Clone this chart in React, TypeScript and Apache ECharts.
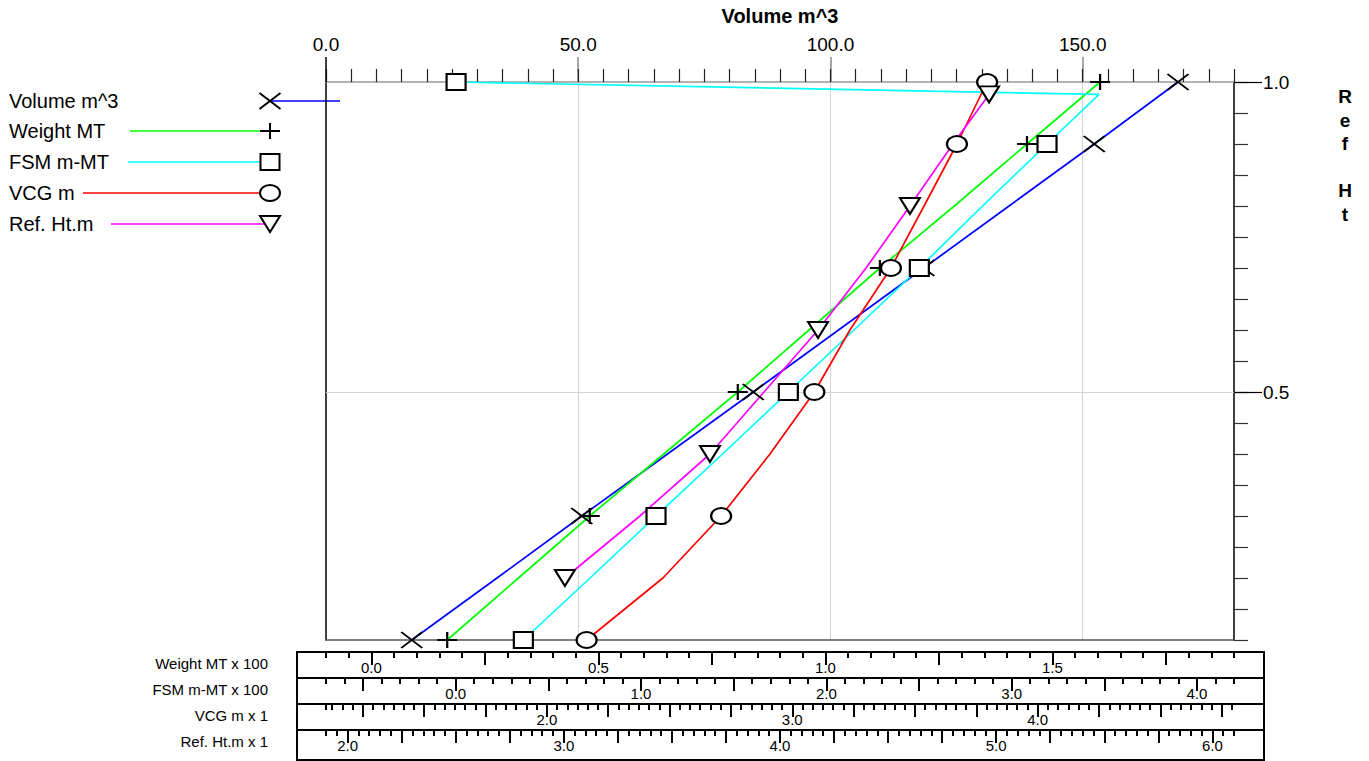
import React, { useEffect, useRef } from 'react';
import * as echarts from 'echarts';

// ---------- data ----------
const levels = [0.1, 0.2, 0.3, 0.4, 0.5, 0.6, 0.7, 0.8, 0.9, 1.0];
const volume = [17.0, 33.9, 50.7, 67.7, 84.7, 101.6, 118.5, 135.4, 152.3, 168.9];
const weight = [16.7, 32.4, 48.1, 64.4, 80.7, 96.4, 112.0, 128.4, 144.4, 160.5];
const vcg = [2.162, 2.473, 2.71, 2.909, 3.09, 3.235, 3.402, 3.537, 3.671, 3.794];

const fsmLevels = [0.1, 0.2, 0.3, 0.4, 0.5, 0.6, 0.7, 0.8, 0.9, 0.98, 1.0];
const fsm = [36.5, 72.5, 108.1, 144.0, 179.5, 214.9, 250.2, 284.3, 319.1, 347.2, 0.2];

const refHtLevels = [0.2, 0.3, 0.4, 0.5, 0.6, 0.7, 0.8, 0.9, 0.98];
const refHt = [3.005, 3.352, 3.676, 3.926, 4.176, 4.398, 4.601, 4.8, 4.967];

// ---------- tick labels ----------
const volumeTickLabels = [0, 50, 100, 150];
const refAxisLabels = [0.5, 1.0];
const weightLabels = [0, 50, 100, 150];
const fsmLabels = [0, 100, 200, 300, 400];
const vcgLabels = [2, 3, 4];
const refHtLabels = [2, 3, 4, 5, 6];

const FONT = '"Liberation Sans", Arial, Helvetica, sans-serif';

const VOL_RANGE = { min: 0, max: 180 };
const strips = [
  { name: 'Weight MT x 100', min: -10, max: 190, minor: 5, major: 25, div: 100, labels: weightLabels },
  { name: 'FSM m-MT x 100', min: -70, max: 420, minor: 10, major: 50, div: 100, labels: fsmLabels },
  { name: 'VCG m x 1', min: 1.1, max: 4.8, minor: 0.25 / 6, major: 0.25, div: 1, labels: vcgLabels },
  { name: 'Ref. Ht.m x 1', min: 1.9, max: 6.1, minor: 0.05, major: 0.25, div: 1, labels: refHtLabels },
];

const SYM_X = 'path://M0,0L21,16M21,0L0,16';
const SYM_PLUS = 'path://M10,0L10,16M0,8L20,8';
const SYM_ELLIPSE = 'path://M0,8A10,8,0,1,1,20,8A10,8,0,1,1,0,8Z';
const SYM_TRI = 'path://M0,0L20,0L10,16Z';

const seriesDefs = [
  { name: 'Volume m^3', color: '#0000ff', xAxisIndex: 0, xs: volume, ys: levels, symbol: SYM_X, size: [21, 16], kind: 'x' },
  { name: 'Weight MT', color: '#00ff00', xAxisIndex: 4, xs: weight, ys: levels, symbol: SYM_PLUS, size: [20, 16], kind: 'plus' },
  { name: 'FSM m-MT', color: '#00ffff', xAxisIndex: 5, xs: fsm, ys: fsmLevels, symbol: 'rect', size: [19, 16], kind: 'rect' },
  { name: 'VCG m', color: '#ff0000', xAxisIndex: 6, xs: vcg, ys: levels, symbol: SYM_ELLIPSE, size: [20, 16], kind: 'ellipse' },
  { name: 'Ref. Ht.m', color: '#ff00ff', xAxisIndex: 7, xs: refHt, ys: refHtLevels, symbol: SYM_TRI, size: [20, 16], kind: 'tri' },
];

// ---------- layout ----------
const PLOT = { left: 326, top: 82, width: 908, height: 558 };
const STRIP_TOP = 652;
const STRIP_H = 26;
const BOX = { x: 297, y: 652, w: 967, h: 108 };
const legendTextY = [101, 131, 162, 193, 224];
const legendLineStart = [340, 130, 128, 83, 111];
const LEGEND_MARK_X = 270;

function steps(min: number, max: number, step: number): number[] {
  const out: number[] = [];
  const k0 = Math.ceil(min / step - 1e-7);
  const k1 = Math.floor(max / step + 1e-7);
  for (let k = k0; k <= k1; k++) out.push(+(k * step).toFixed(6));
  return out;
}

function minorTicks(s: any): number[] {
  const v = steps(s.min, s.max, s.minor);
  if (Math.abs(v[0] - s.min) > 1e-6) v.unshift(s.min);
  return v;
}

function legendMarker(kind: string, cx: number, cy: number): any {
  const st = { stroke: '#000', lineWidth: 2, fill: '#fff' };
  if (kind === 'x')
    return { type: 'group', children: [
      { type: 'line', shape: { x1: cx - 10.5, y1: cy - 8, x2: cx + 10.5, y2: cy + 8 }, style: st },
      { type: 'line', shape: { x1: cx + 10.5, y1: cy - 8, x2: cx - 10.5, y2: cy + 8 }, style: st },
    ] };
  if (kind === 'plus')
    return { type: 'group', children: [
      { type: 'line', shape: { x1: cx, y1: cy - 8, x2: cx, y2: cy + 8 }, style: st },
      { type: 'line', shape: { x1: cx - 10, y1: cy, x2: cx + 10, y2: cy }, style: st },
    ] };
  if (kind === 'rect') return { type: 'rect', shape: { x: cx - 9.5, y: cy - 8, width: 19, height: 16 }, style: st };
  if (kind === 'ellipse') return { type: 'ellipse', shape: { cx, cy, rx: 10, ry: 8 }, style: st };
  return { type: 'polygon', shape: { points: [[cx - 10, cy - 8], [cx + 10, cy - 8], [cx, cy + 8]] }, style: st };
}

function buildOption(): any {
  const grids: any[] = [{ ...PLOT }];
  strips.forEach((_, i) => grids.push({ left: PLOT.left, width: PLOT.width, top: STRIP_TOP + i * STRIP_H, height: STRIP_H }));

  const noLine = { show: false, onZero: false };
  const xAxes: any[] = [
    {
      type: 'value', gridIndex: 0, position: 'top', min: VOL_RANGE.min, max: VOL_RANGE.max, interval: 50,
      name: 'Volume m^3', nameLocation: 'middle', nameGap: 56,
      nameTextStyle: { fontSize: 20, fontWeight: 'bold', color: '#000', fontFamily: FONT },
      axisLine: { show: true, onZero: false, lineStyle: { color: '#999', width: 1.5 } },
      axisTick: { show: true, length: 25, customValues: volumeTickLabels.slice(1), lineStyle: { color: '#888', width: 1.5 } },
      axisLabel: { show: true, customValues: volumeTickLabels, margin: 28, fontSize: 19, color: '#000', fontFamily: FONT, formatter: (v: number) => v.toFixed(1) },
      splitLine: { show: true, lineStyle: { color: '#d4d4d4', width: 1 } },
    },
    {
      type: 'value', gridIndex: 0, position: 'top', min: VOL_RANGE.min, max: VOL_RANGE.max, interval: 5,
      axisLine: noLine, axisTick: { show: true, length: 13, lineStyle: { color: '#222', width: 1.2 } },
      axisLabel: { show: false }, splitLine: { show: false },
    },
    {
      type: 'value', gridIndex: 0, position: 'top', min: VOL_RANGE.min, max: VOL_RANGE.max,
      axisLine: noLine, axisTick: { show: true, length: 25, customValues: [volumeTickLabels[0]], lineStyle: { color: '#000', width: 1.5 } },
      axisLabel: { show: false }, splitLine: { show: false },
    },
    {
      type: 'value', gridIndex: 0, position: 'bottom', min: VOL_RANGE.min, max: VOL_RANGE.max,
      axisLine: { show: true, onZero: false, lineStyle: { color: '#555', width: 1.5 } },
      axisTick: { show: false }, axisLabel: { show: false }, splitLine: { show: false },
    },
  ];
  strips.forEach((s) => xAxes.push({ type: 'value', gridIndex: 0, min: s.min, max: s.max, show: false }));
  strips.forEach((s, i) => {
    xAxes.push({
      type: 'value', gridIndex: i + 1, position: 'top', min: s.min, max: s.max,
      axisLine: noLine, splitLine: { show: false }, axisLabel: { show: false },
      axisTick: { show: true, inside: true, length: 6, customValues: minorTicks(s), lineStyle: { color: '#000', width: 2 } },
    });
    xAxes.push({
      type: 'value', gridIndex: i + 1, position: 'top', min: s.min, max: s.max,
      axisLine: noLine, splitLine: { show: false },
      axisTick: { show: true, inside: true, length: 13, customValues: steps(s.min, s.max, s.major), lineStyle: { color: '#000', width: 2 } },
      axisLabel: {
        show: true, inside: true, margin: 8, customValues: s.labels, fontSize: 15, color: '#000', fontFamily: FONT,
        formatter: (v: number) => (v / s.div).toFixed(1),
      },
    });
  });

  const yAxes: any[] = [
    {
      type: 'value', gridIndex: 0, position: 'right', min: 0.1, max: 1.0, interval: 0.05,
      axisLine: { show: true, onZero: false, lineStyle: { color: '#000', width: 1.5 } },
      axisTick: { show: true, length: 14, lineStyle: { color: '#333', width: 1.2 } },
      axisLabel: { show: false }, splitLine: { show: false },
    },
    {
      type: 'value', gridIndex: 0, position: 'right', min: 0.1, max: 1.0,
      axisLine: noLine,
      axisTick: { show: true, length: 28, customValues: refAxisLabels, lineStyle: { color: '#000', width: 1.2 } },
      axisLabel: { show: true, customValues: refAxisLabels, margin: 29, fontSize: 19, color: '#000', fontFamily: FONT, formatter: (v: number) => v.toFixed(1) },
      splitLine: { show: false },
    },
    {
      type: 'value', gridIndex: 0, position: 'left', min: 0.1, max: 1.0,
      axisLine: { show: true, onZero: false, lineStyle: { color: '#000', width: 1.5 } },
      axisTick: { show: false }, axisLabel: { show: false }, splitLine: { show: false },
    },
  ];
  strips.forEach((_, i) => yAxes.push({ type: 'value', gridIndex: i + 1, min: 0, max: 1, show: false }));

  const series: any[] = [];
  seriesDefs.forEach((d, si) => {
    const pts = d.xs.map((x, i) => [x, d.ys[i]]);
    const line: any = {
      type: 'line', name: d.name, xAxisIndex: d.xAxisIndex, yAxisIndex: 0, data: pts,
      showSymbol: false, silent: true, z: 2,
      lineStyle: { color: d.color, width: 1.7 }, itemStyle: { color: d.color },
    };
    if (si === 0) {
      line.markLine = {
        silent: true, symbol: 'none', z: 1, label: { show: false },
        lineStyle: { color: '#d4d4d4', width: 1, type: 'solid' },
        data: [{ yAxis: refAxisLabels[0] }],
      };
    }
    series.push(line);
  });
  seriesDefs.forEach((d) => {
    const n = d.xs.length;
    const pts = d.xs.map((x, i) => [x, d.ys[i]]).filter((_, i) => i % 2 === 0 || i === n - 1);
    series.push({
      type: 'scatter', name: d.name + ' marker', xAxisIndex: d.xAxisIndex, yAxisIndex: 0, data: pts,
      symbol: d.symbol, symbolSize: d.size, symbolKeepAspect: false, silent: true, z: 4,
      itemStyle: { color: '#fff', borderColor: '#000', borderWidth: 2, opacity: 1 },
    });
  });

  const graphic: any[] = [];
  seriesDefs.forEach((d, i) => {
    const y = legendTextY[i];
    graphic.push({ type: 'text', x: 9, y, style: { text: d.name, fontSize: 20, fontFamily: FONT, fill: '#000', align: 'left', verticalAlign: 'middle' } });
    graphic.push({ type: 'line', shape: { x1: legendLineStart[i], y1: y, x2: LEGEND_MARK_X, y2: y }, style: { stroke: d.color, lineWidth: 1.7 } });
    graphic.push(legendMarker(d.kind, LEGEND_MARK_X, y));
  });
  graphic.push({ type: 'rect', shape: { x: BOX.x, y: BOX.y, width: BOX.w, height: BOX.h }, style: { fill: 'none', stroke: '#000', lineWidth: 2 }, z: 10 });
  strips.forEach((s, i) => {
    if (i > 0) graphic.push({ type: 'line', shape: { x1: BOX.x, y1: STRIP_TOP + i * STRIP_H, x2: BOX.x + BOX.w, y2: STRIP_TOP + i * STRIP_H }, style: { stroke: '#000', lineWidth: 2 }, z: 10 });
    graphic.push({ type: 'text', x: 268, y: STRIP_TOP + i * STRIP_H + 11, style: { text: s.name, fontSize: 15, fontFamily: FONT, fill: '#000', align: 'right', verticalAlign: 'middle' } });
  });
  graphic.push({
    type: 'text', x: 1345, y: 85,
    style: { text: 'R\ne\nf\n\nH\nt', fontSize: 19, fontWeight: 'bold', fontFamily: FONT, fill: '#000', align: 'center', verticalAlign: 'top', lineHeight: 23.5 },
  });

  return {
    animation: false,
    backgroundColor: '#fff',
    grid: grids,
    xAxis: xAxes,
    yAxis: yAxes,
    series,
    graphic,
  };
}

export default function App() {
  const ref = useRef<HTMLDivElement>(null);
  useEffect(() => {
    if (!ref.current) return;
    const chart = echarts.init(ref.current, undefined, { renderer: 'svg' });
    chart.setOption(buildOption());
    return () => chart.dispose();
  }, []);
  return <div ref={ref} style={{ position: 'fixed', left: 0, top: 0, width: 1369, height: 761, background: '#fff' }} />;
}
